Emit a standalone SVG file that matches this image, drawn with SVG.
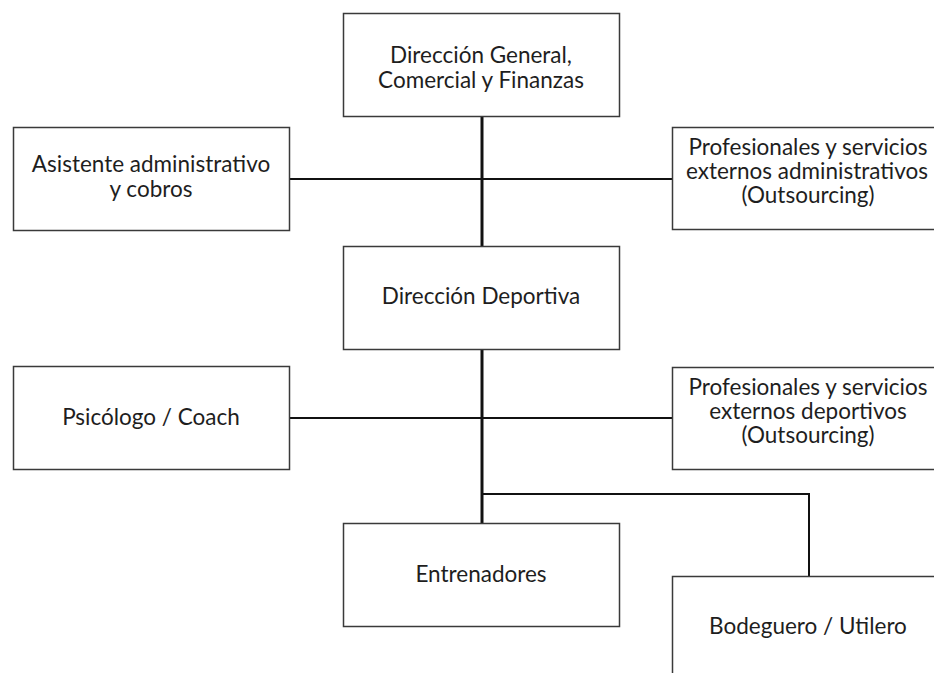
<svg xmlns="http://www.w3.org/2000/svg" width="934" height="673" viewBox="0 0 934 673">
  <style>
    .box { fill: #ffffff; stroke: #3a3a3a; stroke-width: 1.5; }
    .lbl { font-family: Lato, "Open Sans", "Liberation Sans", sans-serif; font-size: 22.5px; fill: #1e1e1e; text-anchor: middle; }
    .trunk { stroke: #111111; stroke-width: 3; fill: none; }
    .link { stroke: #111111; stroke-width: 2; fill: none; }
  </style>
  <rect width="934" height="673" fill="#ffffff"/>

  <g id="connectors">
    <line class="trunk" x1="482" y1="116" x2="482" y2="246"/>
    <line class="link" x1="289" y1="179" x2="672" y2="179"/>
    <line class="trunk" x1="482" y1="349" x2="482" y2="523"/>
    <line class="link" x1="289" y1="418" x2="672" y2="418"/>
    <polyline class="link" points="482,494 809,494 809,576"/>
  </g>

  <g id="direccion-general">
    <rect class="box" x="343.5" y="13.5" width="276" height="103"/>
    <text class="lbl" x="481" y="63">Dirección General,</text>
    <text class="lbl" x="481" y="88">Comercial y Finanzas</text>
  </g>

  <g id="asistente">
    <rect class="box" x="13.5" y="127.5" width="276" height="103"/>
    <text class="lbl" x="151" y="172">Asistente administrativo</text>
    <text class="lbl" x="151" y="197">y cobros</text>
  </g>

  <g id="externos-admin">
    <rect class="box" x="672.5" y="127.5" width="280" height="102"/>
    <text class="lbl" x="808" y="155">Profesionales y servicios</text>
    <text class="lbl" x="807" y="179">externos administrativos</text>
    <text class="lbl" x="808" y="203">(Outsourcing)</text>
  </g>

  <g id="direccion-deportiva">
    <rect class="box" x="343.5" y="246.5" width="276" height="103"/>
    <text class="lbl" x="481" y="304">Dirección Deportiva</text>
  </g>

  <g id="psicologo">
    <rect class="box" x="13.5" y="366.5" width="276" height="103"/>
    <text class="lbl" x="151" y="425">Psicólogo / Coach</text>
  </g>

  <g id="externos-deportivos">
    <rect class="box" x="672.5" y="367.5" width="280" height="102"/>
    <text class="lbl" x="808" y="395">Profesionales y servicios</text>
    <text class="lbl" x="808" y="419">externos deportivos</text>
    <text class="lbl" x="808" y="443">(Outsourcing)</text>
  </g>

  <g id="entrenadores">
    <rect class="box" x="343.5" y="523.5" width="276" height="103"/>
    <text class="lbl" x="481" y="582">Entrenadores</text>
  </g>

  <g id="bodeguero">
    <rect class="box" x="672.5" y="576.5" width="280" height="120"/>
    <text class="lbl" x="808" y="634">Bodeguero / Utilero</text>
  </g>
</svg>
